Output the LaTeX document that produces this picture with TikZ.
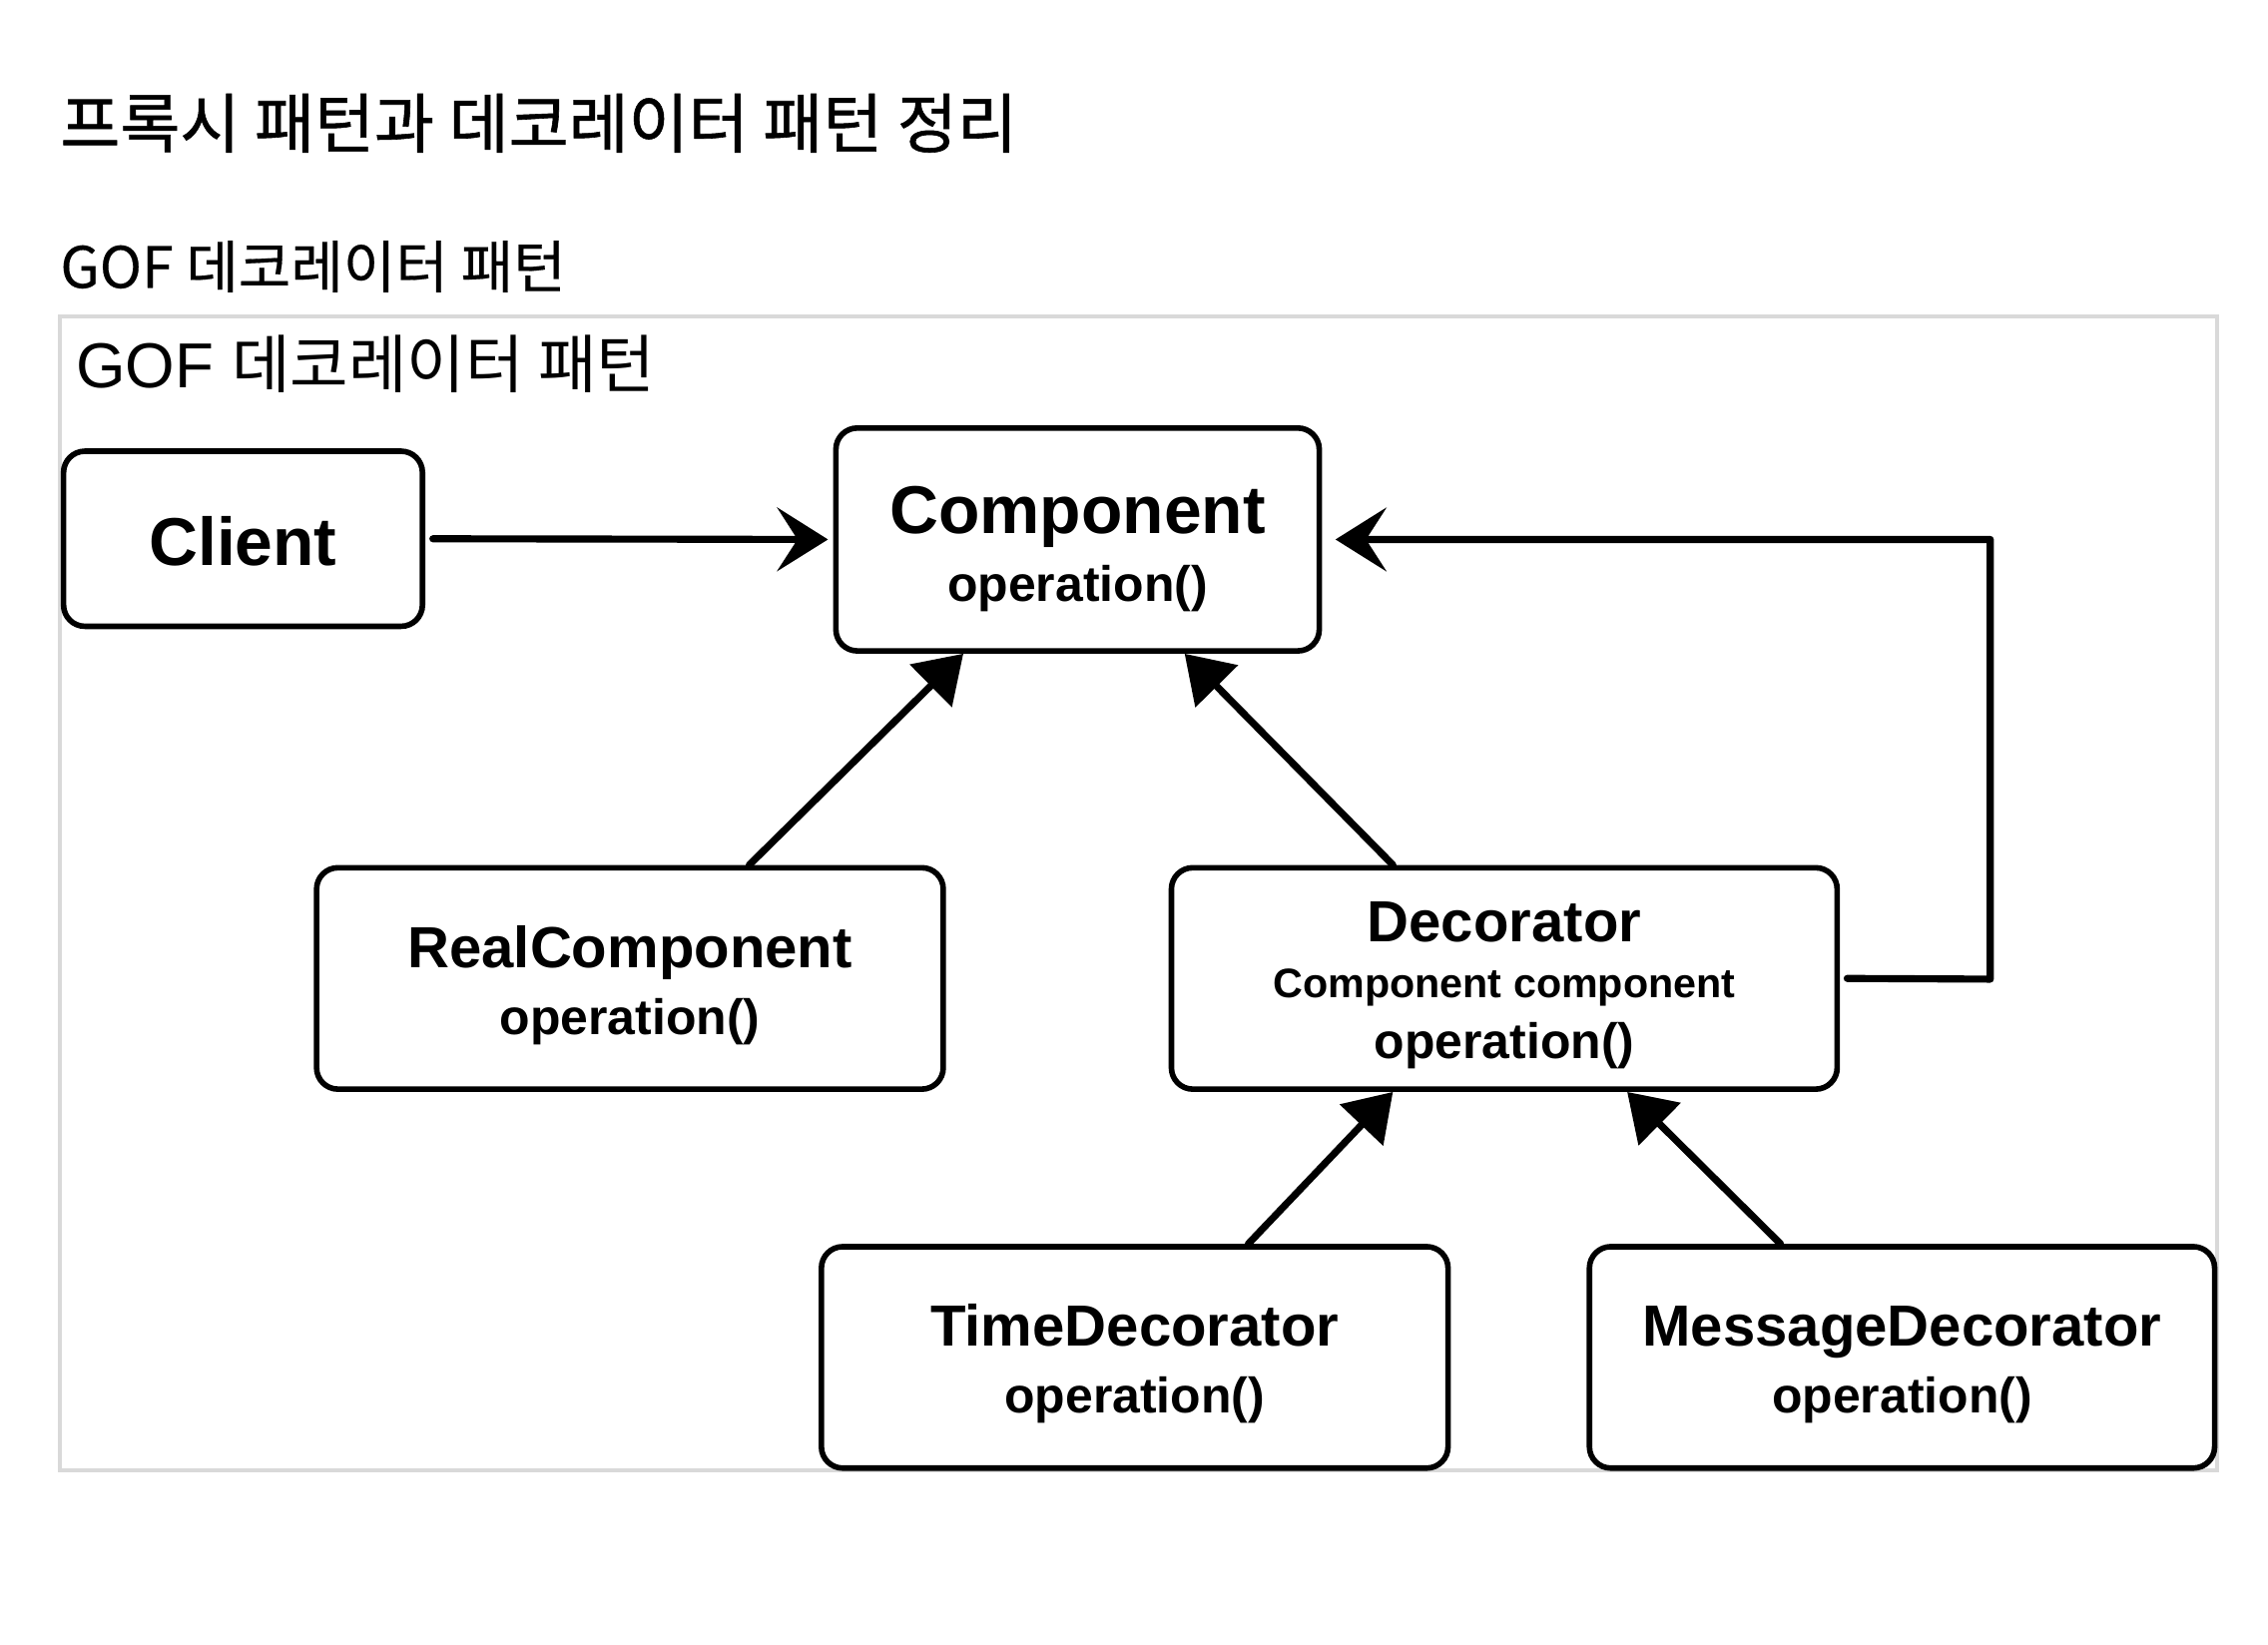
\documentclass[tikz,border=0pt]{standalone}
\usepackage{fontspec}
\setmainfont{Liberation Sans}
\newfontfamily\cjk{Noto Sans CJK KR}
\newfontfamily\cjkh[FakeBold=0.9]{Noto Sans CJK KR}
\newfontfamily\cjks[FakeBold=0.3]{Noto Sans CJK KR}
\usetikzlibrary{arrows.meta,calc}
\tikzset{
  box/.style={draw=black, line width=1.1pt, rounded corners=4.2pt, fill=white, inner sep=0pt},
  txt/.style={anchor=base, inner sep=0pt, font=\bfseries},
  conn/.style={draw=black, line width=1.4pt, line cap=round, line join=round},
  assoc/.style={conn, -{Stealth[length=10pt, width=12.5pt, inset=4pt]}},
  inherit/.style={conn, -{Triangle[length=9pt, width=11.5pt]}},
}
\newcommand{\fsbig}{\fontsize{13.3pt}{15pt}\selectfont}
\newcommand{\fsname}{\fontsize{11.4pt}{13pt}\selectfont}
\newcommand{\fsop}{\fontsize{9.8pt}{11pt}\selectfont}
\newcommand{\fsattr}{\fontsize{8.1pt}{9pt}\selectfont}
\begin{document}
\begin{tikzpicture}[x=0.01cm, y=-0.01cm]
\useasboundingbox[fill=white] (0,0) rectangle (1568,1137.35);

% headings
\node[anchor=base west, inner sep=0pt, font=\cjkh\fontsize{12.8pt}{14pt}\selectfont] (title) at (41,102) {프록시 패턴과 데코레이터 패턴 정리};
\node[anchor=base west, inner sep=0pt, font=\cjks\fontsize{11.2pt}{13pt}\selectfont] (subtitle) at (41,199) {GOF 데코레이터 패턴};

% frame
\draw[draw=black!15, line width=0.8pt] (41.5,218.5) rectangle (1532.5,1016.5);
\node[anchor=base west, inner sep=0pt, font=\fontsize{12.5pt}{14pt}\selectfont] (framelabel) at (52,268) {GOF {\cjk 데코레이터 패턴}};

% boxes
\node[box, minimum width=2.48cm, minimum height=1.21cm] (client) at (168,372.5) {};
\node[box, minimum width=3.34cm, minimum height=1.54cm] (comp) at (745,373) {};
\node[box, minimum width=4.33cm, minimum height=1.53cm] (real) at (435.5,676.5) {};
\node[box, minimum width=4.60cm, minimum height=1.53cm] (deco) at (1040,676.5) {};
\node[box, minimum width=4.33cm, minimum height=1.53cm] (time) at (784.5,938.5) {};
\node[box, minimum width=4.32cm, minimum height=1.53cm] (msg) at (1315,938.5) {};

% texts
\node[txt, font=\bfseries\fsbig] (clientT) at (168,391) {Client};
\node[txt, font=\bfseries\fsbig] (compT) at (745,369) {Component};
\node[txt, font=\bfseries\fsop] (compO) at (745,416) {operation()};
\node[txt, font=\bfseries\fsname] (realT) at (435.5,669) {RealComponent};
\node[txt, font=\bfseries\fsop] (realO) at (435.5,715) {operation()};
\node[txt, font=\bfseries\fsname] (decoT) at (1040,651) {Decorator};
\node[txt, font=\bfseries\fsattr] (decoA) at (1040,690) {Component component};
\node[txt, font=\bfseries\fsop] (decoO) at (1040,732) {operation()};
\node[txt, font=\bfseries\fsname] (timeT) at (784.5,931) {TimeDecorator};
\node[txt, font=\bfseries\fsop] (timeO) at (784.5,977) {operation()};
\node[txt, font=\bfseries\fsname] (msgT) at (1315,931) {MessageDecorator};
\node[txt, font=\bfseries\fsop] (msgO) at (1315,977) {operation()};

% connectors
\draw[assoc, shorten <=1.5pt, shorten >=1pt] (client.east) -- (comp.west);
\coordinate (corner1) at (1376,677);
\coordinate (corner2) at (1376,373);
\draw[assoc, shorten >=1.5pt] ($(deco.east)+(5,0)$) -- (corner1) -- (corner2) -- ($(comp.east)+(4,0)$);
\draw[inherit] ($(real.north)+(82.5,0)$) -- ($(comp.south)+(-79,0)$);
\draw[inherit] ($(deco.north)+(-77,0)$) -- ($(comp.south)+(74,0)$);
\draw[inherit] ($(time.north)+(78.5,0)$) -- ($(deco.south)+(-77,0)$);
\draw[inherit] ($(msg.north)+(-84,0)$) -- ($(deco.south)+(85,0)$);
\end{tikzpicture}
\end{document}
